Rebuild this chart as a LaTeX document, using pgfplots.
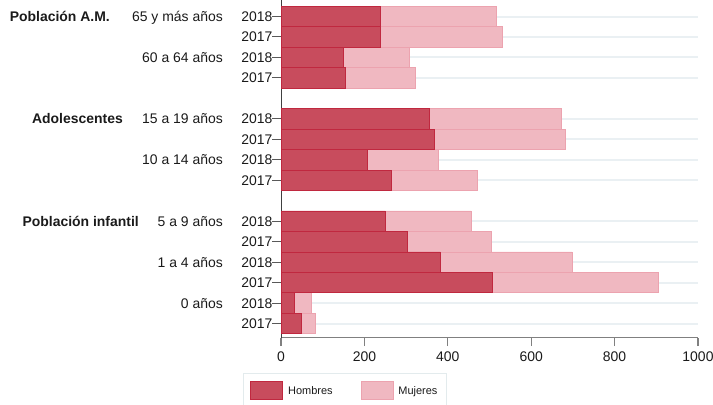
\documentclass[border=0pt]{standalone}
\usepackage{fontspec}
\setmainfont{Liberation Sans}
\usepackage{pgfplots}
\usepackage{pgfplotstable}
\pgfplotsset{compat=1.18}
\definecolor{hom}{HTML}{C84C5D}
\definecolor{homb}{HTML}{C0283F}
\definecolor{muj}{HTML}{F0B8C1}
\definecolor{mujb}{HTML}{ECA3AF}
\definecolor{gridc}{HTML}{EAF0F3}
\definecolor{legb}{HTML}{E3EBED}
\definecolor{txt}{HTML}{1A1A1A}

\pgfplotstableread{
k H M
0 238 279
1 239 292
2 149 158
3 154 168
5 355 318
6 369 312
7 206 171
8 265 207
10 250 206
11 304 200
12 382 316
13 508 396
14 32 42
15 48 35
}\data

\begin{document}
\begin{tikzpicture}
\begin{axis}[
  at={(281bp,67.5bp)}, anchor=south west,
  scale only axis, width=417bp, height=337.5bp,
  xbar stacked, bar width=1,
  xmin=0, xmax=1000, ymin=-0.806, ymax=15.68, y dir=reverse,
  clip=false,
  ytick={0,1,2,3,5,6,7,8,10,11,12,13,14,15},
  yticklabels={2018,2017,2018,2017,2018,2017,2018,2017,2018,2017,2018,2017,2018,2017},
  xtick={0,200,400,600,800,1000},
  axis x line*=bottom, axis y line*=left,
  x axis line style={draw=black!50, line width=1.2bp},
  y axis line style={draw=black!75, line width=1bp},
  tick align=outside, major tick length=8.5bp,
  xtick style={draw=black!50, line width=1.2bp},
  ytick style={draw=black!65, line width=1bp},
  ymajorgrids, major y grid style={draw=gridc, line width=2bp},
  /pgf/number format/assume math mode=true,
  /pgf/number format/1000 sep={},
  xticklabel style={font=\fontsize{14}{16}\selectfont, text=txt, anchor=north, inner sep=0pt, text height=10bp, text depth=0pt, yshift=-5bp},
  yticklabel style={font=\fontsize{14}{16}\selectfont, text=txt, anchor=east, inner sep=0pt, text height=10bp, text depth=0pt},
  legend columns=2,
  legend cell align=left,
  legend image code/.code={\draw[#1] (0bp,-9bp) rectangle (32bp,9bp);},
  legend style={at={(0,0)}, anchor=north west, xshift=-38bp, yshift=-35.5bp,
    draw=legb, line width=0.8bp, font=\fontsize{11}{13}\selectfont, text=txt,
    inner xsep=7bp, inner ysep=8bp,
    /tikz/every odd column/.append style={column sep=3bp},
    /tikz/every even column/.append style={column sep=26bp}},
]
\addplot[fill=hom, draw=homb, line width=0.8bp] table[x=H, y=k] {\data};
\addplot[fill=muj, draw=mujb, line width=0.8bp] table[x=M, y=k] {\data};
\legend{Hombres, Mujeres}

\tikzset{lab/.style={font=\fontsize{14}{16}\selectfont, text=txt, anchor=east, inner sep=0pt, text height=10bp, text depth=0pt}}
\node[lab, xshift=-58bp] at (axis cs:0,0) {65 y más años};
\node[lab, xshift=-58bp] at (axis cs:0,2) {60 a 64 años};
\node[lab, xshift=-58bp] at (axis cs:0,5) {15 a 19 años};
\node[lab, xshift=-58bp] at (axis cs:0,7) {10 a 14 años};
\node[lab, xshift=-58bp] at (axis cs:0,10) {5 a 9 años};
\node[lab, xshift=-58bp] at (axis cs:0,12) {1 a 4 años};
\node[lab, xshift=-58bp] at (axis cs:0,14) {0 años};
\node[lab, font=\fontsize{14}{16}\selectfont\bfseries, xshift=-171bp] at (axis cs:0,0) {Población A.M.};
\node[lab, font=\fontsize{14}{16}\selectfont\bfseries, xshift=-158bp] at (axis cs:0,5) {Adolescentes};
\node[lab, font=\fontsize{14}{16}\selectfont\bfseries, xshift=-142bp] at (axis cs:0,10) {Población infantil};
\end{axis}
\pgfresetboundingbox
\path[use as bounding box] (0,0) rectangle (713bp,405bp);
\end{tikzpicture}
\end{document}
